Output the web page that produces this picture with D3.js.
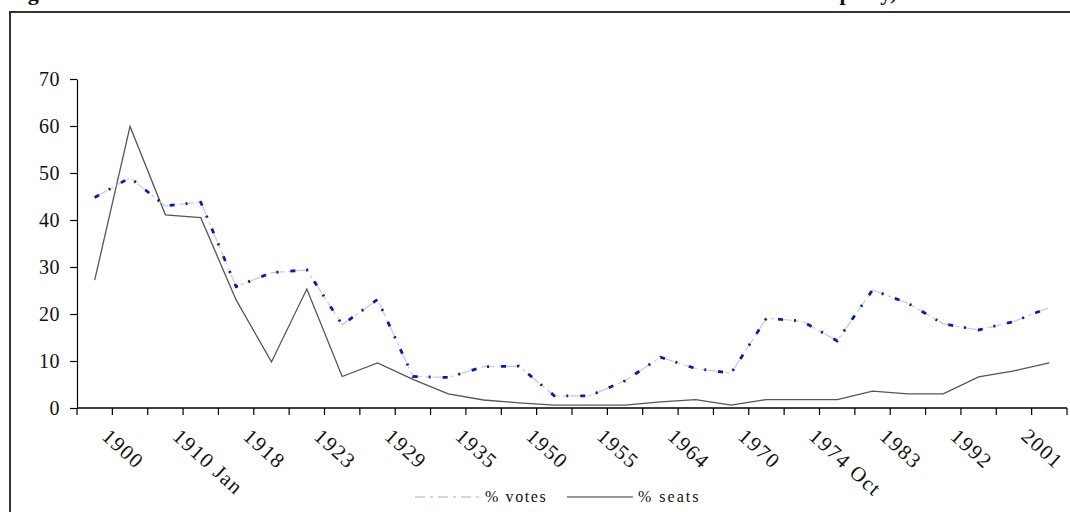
<!DOCTYPE html>
<html><head><meta charset="utf-8">
<script src="https://cdn.jsdelivr.net/npm/d3@7"></script>
<style>
html,body{margin:0;padding:0;background:#fff;}
svg{display:block;}
text{font-family:"Liberation Serif","Times New Roman",serif;fill:#111;}
</style></head>
<body>
<svg id="chart" width="1070" height="512"></svg>
<script>
const categories = ["1900","1906","1910 Jan","1910 Dec","1918","1922","1923","1924","1929","1931","1935","1945","1950","1951","1955","1959","1964","1966","1970","1974 Feb","1974 Oct","1979","1983","1987","1992","1997","2001","2005"];
const tickLabels = ["1900","1910 Jan","1918","1923","1929","1935","1950","1955","1964","1970","1974 Oct","1983","1992","2001"];
const votes = [44.8,49.0,43.0,43.8,25.8,28.8,29.4,17.7,23.1,6.7,6.5,8.8,8.9,2.6,2.6,5.8,10.8,8.4,7.4,19.1,18.5,14.3,25.1,22.3,17.9,16.6,18.4,21.4];
const seats = [27.2,59.9,41.1,40.5,23.0,9.8,25.3,6.7,9.6,6.1,3.0,1.7,1.1,0.6,0.6,0.6,1.3,1.8,0.6,1.8,1.8,1.8,3.6,3.0,3.0,6.6,7.9,9.6];
const yTicks = [0,10,20,30,40,50,60,70];
const seriesNames = ["% votes","% seats"];
const titleText = "Figure 1: Share of the vote and share of seats won at elections for the Liberal Democrat party, 1900-2005";

const svg = d3.select("#chart");

// outer frame
svg.append("rect").attr("x",10).attr("y",12).attr("width",1080).attr("height",600)
  .attr("fill","none").attr("stroke","#333").attr("stroke-width",2);

// title (mostly cut off at the top edge, as in the reference)
svg.append("text").attr("x",8).attr("y",0).attr("font-weight","bold").attr("font-size",22)
  .attr("letter-spacing",0.1).text(titleText);

const x = d3.scaleBand().domain(categories).range([77,1067]).paddingInner(0).paddingOuter(0);
const y = d3.scaleLinear().domain([0,70]).range([408,79]);
const cx = c => x(c) + x.bandwidth()/2;

// y axis
const yAxis = svg.append("g").attr("transform","translate(77,0)")
  .call(d3.axisLeft(y).tickValues(yTicks).tickSize(7).tickPadding(10).tickSizeOuter(0));
yAxis.selectAll("path,line").attr("stroke","#000").attr("stroke-width",1.2);
yAxis.selectAll("text").attr("font-size",20).attr("letter-spacing",0.5).attr("font-family","Liberation Serif").attr("fill","#111");

// x axis line
svg.append("line").attr("x1",x.range()[0]).attr("x2",x.range()[1]).attr("y1",y(0)).attr("y2",y(0))
  .attr("stroke","#000").attr("stroke-width",1.5);
// x ticks at band boundaries
const boundaries = categories.map(c => x(c)).concat([x.range()[1]]);
svg.append("g").selectAll("line").data(boundaries).join("line")
  .attr("x1",d=>d).attr("x2",d=>d).attr("y1",y(0)).attr("y2",y(0)+7)
  .attr("stroke","#000").attr("stroke-width",1.2);
// x labels rotated
svg.append("g").selectAll("text").data(tickLabels).join("text")
  .attr("transform",d=>`translate(${cx(d)+6},${y(0)+30}) rotate(42)`)
  .attr("font-size",21).attr("letter-spacing",1.4).attr("text-anchor","start").text(d=>d);

const line = d3.line().x((d,i)=>cx(categories[i])).y(d=>y(d));

// seats line
svg.append("path").datum(seats).attr("d",line).attr("fill","none")
  .attr("stroke","#555").attr("stroke-width",1.3);

// votes line: light underlay + navy dash-dot overlay
svg.append("path").datum(votes).attr("d",line).attr("fill","none")
  .attr("stroke","#c4c8ea").attr("stroke-width",1.2).attr("stroke-dasharray","14,4,3,4");
svg.append("path").datum(votes).attr("d",line).attr("fill","none")
  .attr("stroke","#0a1f9b").attr("stroke-width",2.8).attr("stroke-dasharray","5,11,2,12");

// legend
const lg = svg.append("g");
lg.append("line").attr("x1",415).attr("x2",483).attr("y1",497).attr("y2",497)
  .attr("stroke","#c4c8ea").attr("stroke-width",1.3).attr("stroke-dasharray","10,5,3,5");
lg.append("text").attr("x",485).attr("y",502).attr("font-size",16).attr("letter-spacing",1.6).text(seriesNames[0]);
lg.append("line").attr("x1",567).attr("x2",633).attr("y1",497).attr("y2",497)
  .attr("stroke","#333").attr("stroke-width",1.2);
lg.append("text").attr("x",638).attr("y",502).attr("font-size",16).attr("letter-spacing",2).text(seriesNames[1]);
</script>
</body></html>
